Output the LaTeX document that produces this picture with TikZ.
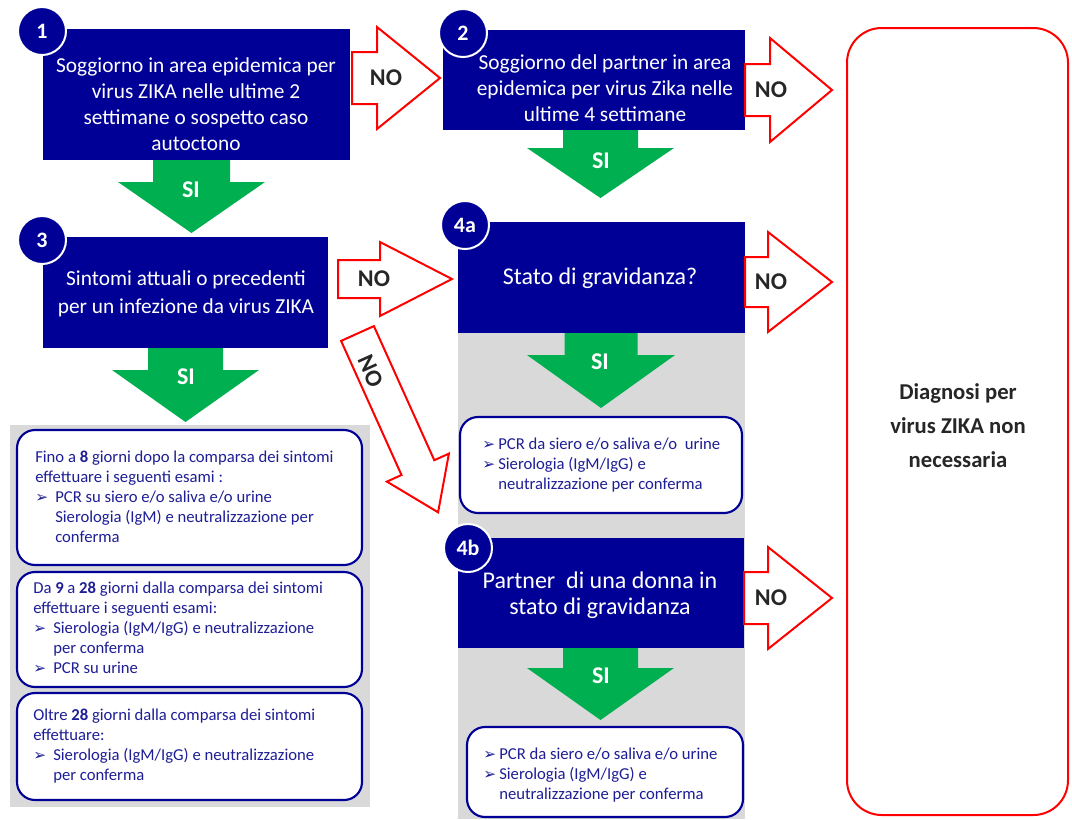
\documentclass[tikz,border=0pt]{standalone}
\usepackage{fontspec}
\setmainfont{Carlito}
\newfontfamily\dejavu{DejaVu Sans}
\usetikzlibrary{fit}
\definecolor{navy}{RGB}{0,0,150}
\definecolor{sigreen}{RGB}{0,176,80}
\definecolor{nored}{RGB}{255,0,0}
\definecolor{lgray}{RGB}{217,217,217}
\definecolor{rtext}{RGB}{30,30,150}
\newcommand\bul{\makebox[15pt][l]{{\dejavu\fontsize{11.5}{11.5}\selectfont ➢}}}
\newcommand\ind{\hspace*{15pt}}
\newcommand\bulb{\makebox[12pt][l]{{\dejavu\fontsize{11.5}{11.5}\selectfont ➢}}}
\newcommand\indb{\hspace*{12pt}}
\newcommand\harr[6]{\draw[noarrow] (#1,#2-#5) -- (#3,#2-#5) -- (#3,#2-#6) -- (#4,#2) -- (#3,#2+#6) -- (#3,#2+#5) -- (#1,#2+#5) -- cycle;}
\newcommand\varr[6]{\fill[siarrow] (#1-#5,#2) -- (#1+#5,#2) -- (#1+#5,#3) -- (#1+#6,#3) -- (#1,#4) -- (#1-#6,#3) -- (#1-#5,#3) -- cycle;}
\begin{document}
\begin{tikzpicture}[x=0.75pt,y=-0.75pt,
  bluebox/.style={fill=navy, draw=none, inner sep=0pt},
  btext/.style={text=white, align=center, inner sep=0pt, font=\fontsize{16}{19.5}\selectfont},
  numc/.style={circle, fill=navy, draw=white, line width=1.5pt, minimum size=36pt, inner sep=0pt, text=white, font=\fontsize{16.5}{16.5}\selectfont\bfseries},
  resbox/.style={draw=navy, line width=1.6pt, fill=white, rounded corners=13.5pt, inner sep=0pt},
  rtxt/.style={anchor=west, align=left, inner sep=0pt, text=rtext, font=\fontsize{12.5}{15}\selectfont},
  panel/.style={fill=lgray, draw=none, inner sep=0pt},
  noarrow/.style={draw=nored, line width=1.5pt, fill=white, line join=miter},
  siarrow/.style={fill=sigreen},
  nolab/.style={font=\fontsize{18}{18}\selectfont\bfseries, text=black!85, inner sep=0pt},
  silab/.style={font=\fontsize{18}{18}\selectfont\bfseries, text=white, inner sep=0pt},
  diagbox/.style={draw=nored, line width=1.5pt, rounded corners=26pt, inner sep=0pt}]
\useasboundingbox (0,0) rectangle (1072,819);
\fill[white] (0,0) rectangle (1072,819);

% panels
\node[panel, fit={(10,425) (370,807)}] (pl) {};
\node[panel, fit={(458,332) (745,819)}] (pr) {};

% main boxes
\node[bluebox, fit={(43,29) (350,160)}] (b1) {};
\node[btext] (t1) at (196,104) {Soggiorno in area epidemica per\\virus ZIKA nelle ultime 2\\settimane o sospetto caso\\autoctono};
\node[bluebox, fit={(443,30) (745,130)}] (b2) {};
\node[btext] (t2) at (605,88) {Soggiorno del partner in area\\epidemica per virus Zika nelle\\ultime 4 settimane};
\node[bluebox, fit={(43,237) (328,348)}] (b3) {};
\node[btext, font=\fontsize{16}{21}\selectfont] (t3) at (186,294) {Sintomi attuali o precedenti\\per un infezione da virus ZIKA};
\node[bluebox, fit={(458,222) (745,333)}] (b4a) {};
\node[btext, font=\fontsize{18}{19.5}\selectfont] (t4a) at (600,278) {Stato di gravidanza?};
\node[bluebox, fit={(458,538) (744,648)}] (b4b) {};
\node[btext, font=\fontsize{18}{19.5}\selectfont] (t4b) at (600,595) {Partner\ \ di una donna in\\stato di gravidanza};

% result boxes
\node[resbox, fit={(17,430) (362,565)}] (rA) {};
\node[rtxt] (rAt) at (35,497) {Fino a \textbf{8} giorni dopo la comparsa dei sintomi\\effettuare i seguenti esami :\\\bul PCR su siero e/o saliva e/o urine\\\ind Sierologia (IgM) e neutralizzazione per\\\ind conferma};
\node[resbox, fit={(17,572) (362,687)}] (rB) {};
\node[rtxt] (rBt) at (33,628) {Da \textbf{9} a \textbf{28} giorni dalla comparsa dei sintomi\\effettuare i seguenti esami:\\\bul Sierologia (IgM/IgG) e neutralizzazione\\\ind per conferma\\\bul PCR su urine};
\node[resbox, fit={(17,693) (362,800)}] (rC) {};
\node[rtxt] (rCt) at (33,746) {Oltre \textbf{28} giorni dalla comparsa dei sintomi\\effettuare:\\\bul Sierologia (IgM/IgG) e neutralizzazione\\\ind per conferma};
\node[resbox, fit={(460,417) (742,513)}] (r4a) {};
\node[rtxt] (r4at) at (482,465) {\bulb PCR da siero e/o saliva e/o\ \ urine\\\bulb Sierologia (IgM/IgG) e\\\indb neutralizzazione per conferma};
\node[resbox, fit={(467,727) (743,817)}] (r4b) {};
\node[rtxt] (r4bt) at (483,775) {\bulb PCR da siero e/o saliva e/o urine\\\bulb Sierologia (IgM/IgG) e\\\indb neutralizzazione per conferma};

% diagnosis
\node[diagbox, fit={(847,28) (1068,815)}] (dg) {};
\node[align=center, inner sep=0pt, font=\fontsize{17}{25.5}\selectfont\bfseries, text=black!85] (dgt) at (958,426) {Diagnosi per\\virus ZIKA non\\necessaria};

% number circles
\node[numc] (c1) at (42,31) {1};
\node[numc] (c2) at (463,33) {2};
\node[numc] (c3) at (42,240) {3};
\node[numc] (c4a) at (465,225) {4a};
\node[numc] (c4b) at (468,548) {4b};

% NO arrows
\harr{352}{78}{377}{440}{26}{51}
\harr{745}{90}{770}{832}{26}{52}
\harr{338}{279}{380}{452}{19}{37}
\harr{745}{282}{768}{832}{25}{50}
\harr{744}{598}{768}{832}{26}{51}
\draw[noarrow] (373.9,326.1) -- (434.3,460.2) -- (448.9,453.6) -- (438.1,512.3) -- (386.9,481.6) -- (401.5,475.0) -- (341.1,340.9) -- cycle;
\node[nolab] (n1) at (386,78) {NO};
\node[nolab] (n2) at (771,90) {NO};
\node[nolab] (n3) at (374,279) {NO};
\node[nolab] (n4) at (771,282) {NO};
\node[nolab] (n5) at (771,598) {NO};
\node[nolab, rotate=-65.7] (n6) at (371,371) {NO};

% SI arrows
\varr{191.5}{160}{182}{233}{38.5}{73.5}
\varr{600.5}{130}{148}{198}{37.5}{73.5}
\varr{185.5}{348}{370}{422}{37.5}{73.5}
\varr{601}{333}{355}{408}{36.5}{74}
\varr{600.5}{648}{668}{720}{37.5}{73.5}
\node[silab] (s1) at (191,190) {SI};
\node[silab] (s2) at (601,161) {SI};
\node[silab] (s3) at (186,377) {SI};
\node[silab] (s4) at (600,362) {SI};
\node[silab] (s5) at (601,676) {SI};
\end{tikzpicture}
\end{document}
